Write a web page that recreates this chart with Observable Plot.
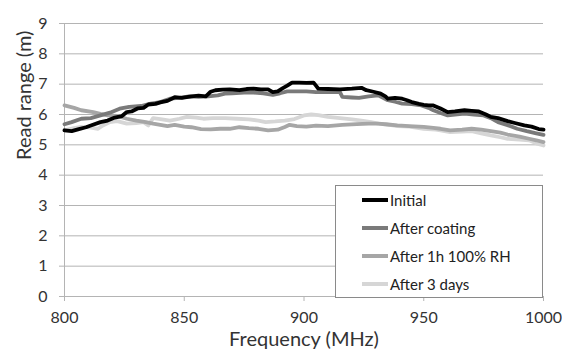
<!DOCTYPE html>
<html>
<head>
<meta charset="utf-8">
<script src="https://cdn.jsdelivr.net/npm/d3@7"></script>
<script src="https://cdn.jsdelivr.net/npm/@observablehq/plot@0.6"></script>
<style>
  html, body { margin: 0; padding: 0; background: #fff; }
  #wrap { position: relative; width: 562px; height: 356px; font-family: Lato, "Open Sans", sans-serif; }
  #legend { position: absolute; background: #fff; border: 1px solid #8a8a8a; box-sizing: border-box; }
  .row { position: absolute; left: 0; display: flex; align-items: center; font-size: 15px; color: #222; }
  .sw { width: 26px; height: 4px; margin-right: 2px; }
</style>
</head>
<body>
<div id="wrap"></div>
<script>
const seriesNames = ["Initial", "After coating", "After 1h 100% RH", "After 3 days"];
const seriesColors = ["#000000", "#7a7a7a", "#a6a6a6", "#d6d6d6"];
const yTicks = [0, 1, 2, 3, 4, 5, 6, 7, 8, 9];
const xTicks = [800, 850, 900, 950, 1000];

const initialF = [800,803,806,809,811,815,818,821,824,826,828,830.5,833,835,838,840,843,846,849,853,856,859,861,863,866,869,873,876,879,882,885,887,889,891,893,895,898,901,904,905,906,910,915,920,924,926,929,932,934,935,938,941,943,945,948,950,952,954,957,960,963,967,970,973,976,978,981,985,988,992,995,998,1000];
const initialV = [5.48,5.45,5.52,5.58,5.64,5.75,5.8,5.9,5.95,6.08,6.1,6.2,6.22,6.33,6.35,6.4,6.45,6.57,6.55,6.6,6.62,6.6,6.75,6.8,6.82,6.83,6.8,6.84,6.85,6.83,6.83,6.74,6.76,6.86,6.95,7.05,7.05,7.04,7.05,6.95,6.85,6.84,6.83,6.85,6.88,6.8,6.75,6.69,6.6,6.52,6.55,6.52,6.47,6.41,6.35,6.32,6.3,6.3,6.2,6.08,6.1,6.14,6.12,6.1,6.0,5.92,5.88,5.78,5.72,5.64,5.6,5.52,5.5];

const coatingF = [800,803,807,811,815,819,823,827,832,836,840,844,848,852,856,860,864,867,870,875,879,883,887,890,893,897,901,905,910,915,916,920,923,927,931,933,935,938,941,945,949,952,954,957,960,963,967,971,975,978,981,985,989,993,997,1000];
const coatingV = [5.68,5.75,5.86,5.88,5.97,6.06,6.19,6.25,6.28,6.36,6.41,6.52,6.55,6.6,6.58,6.6,6.63,6.69,6.7,6.72,6.72,6.7,6.65,6.7,6.76,6.76,6.76,6.74,6.74,6.74,6.58,6.56,6.55,6.6,6.63,6.55,6.47,6.42,6.36,6.34,6.3,6.22,6.14,6.05,5.97,6.0,6.03,6.0,5.97,5.88,5.75,5.65,5.53,5.45,5.38,5.33];

const humidF = [800,804,807,812,815,818,822,826,830,834,837,840,843,846,850,853,857,861,865,869,873,877,881,885,889,892,894,897,901,905,910,916,922,927,931,935,939,944,950,954,957,961,966,970,974,978,982,985,990,994,997,1000];
const humidV = [6.3,6.22,6.14,6.08,6.02,5.97,5.95,5.86,5.8,5.75,5.7,5.66,5.62,5.66,5.6,5.58,5.52,5.51,5.53,5.53,5.58,5.55,5.53,5.48,5.5,5.59,5.66,5.62,5.6,5.63,5.62,5.66,5.68,5.7,5.7,5.67,5.64,5.62,5.59,5.56,5.53,5.48,5.5,5.53,5.5,5.45,5.4,5.34,5.27,5.2,5.15,5.09];

const daysF = [800,804,807,811,814,816,819,822,826,830,833,835,837,840,844,848,851,855,858,862,867,872,877,881,884,888,892,896,900,903,906,910,915,920,924,928,931,935,939,944,950,955,957,961,966,970,974,978,982,985,990,994,997,1000];
const daysV = [5.48,5.55,5.59,5.57,5.53,5.64,5.75,5.78,5.7,5.72,5.75,5.64,5.88,5.85,5.8,5.86,5.92,5.9,5.86,5.88,5.88,5.86,5.84,5.8,5.75,5.77,5.8,5.85,5.97,6.0,5.98,5.92,5.88,5.84,5.8,5.75,5.7,5.67,5.62,5.6,5.53,5.5,5.48,5.42,5.44,5.45,5.38,5.31,5.25,5.2,5.17,5.15,5.05,4.98];

const allF = [initialF, coatingF, humidF, daysF];
const allV = [initialV, coatingV, humidV, daysV];
const rows = [];
allF.forEach((fs, i) => fs.forEach((f, j) => rows.push({series: seriesNames[i], f, v: allV[i][j]})));
const drawOrder = [...seriesNames].reverse();
rows.sort((a, b) => drawOrder.indexOf(a.series) - drawOrder.indexOf(b.series));

const font = 'Lato, "Open Sans", sans-serif';
const chart = Plot.plot({
  width: 562,
  height: 356,
  marginLeft: 64,
  marginRight: 19,
  marginTop: 23,
  marginBottom: 60,
  style: {fontFamily: font, fontSize: "16px", color: "#333", background: "#fff"},
  x: {domain: [800, 1000]},
  y: {domain: [0, 9]},
  color: {domain: seriesNames, range: seriesColors},
  marks: [
    Plot.gridY(yTicks, {stroke: "#b4b4b4", strokeOpacity: 1, strokeWidth: 1}),
    Plot.ruleX([800], {stroke: "#b4b4b4"}),
    Plot.axisY(yTicks, {tickSize: 5, tickPadding: 12, stroke: "#b4b4b4", fill: "#333", label: null, fontSize: 16}),
    Plot.axisX(xTicks, {tickSize: 5, tickPadding: 10, stroke: "#b4b4b4", fill: "#333", label: null, fontSize: 16, tickFormat: d => String(d)}),
    Plot.text(["Read range (m)"], {frameAnchor: "left", rotate: -90, dx: -40, fontSize: 20, fill: "#333"}),
    Plot.text(["Frequency (MHz)"], {frameAnchor: "bottom", dy: 49, fontSize: 20, fill: "#333"}),
    Plot.line(rows, {x: "f", y: "v", z: "series", stroke: "series", strokeWidth: 3.8, curve: "linear", strokeLinejoin: "round"})
  ]
});

const wrap = document.getElementById("wrap");
wrap.appendChild(chart);

const legend = document.createElement("div");
legend.id = "legend";
Object.assign(legend.style, {left: "335px", top: "185px", width: "208px", height: "113px"});
seriesNames.forEach((name, i) => {
  const r = document.createElement("div");
  r.className = "row";
  r.style.left = "26px";
  r.style.top = (4 + i * 28) + "px";
  r.style.height = "20px";
  const sw = document.createElement("div");
  sw.className = "sw";
  sw.style.background = seriesColors[i];
  const t = document.createElement("span");
  t.textContent = name;
  r.appendChild(sw);
  r.appendChild(t);
  legend.appendChild(r);
});
wrap.appendChild(legend);
</script>
</body>
</html>
